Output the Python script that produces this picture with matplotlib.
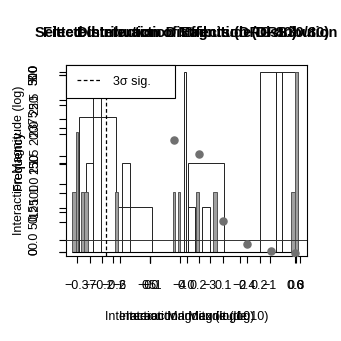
import numpy as np
import matplotlib
matplotlib.use("Agg")
import matplotlib.pyplot as plt

plt.rcParams['font.family'] = ['Liberation Sans', 'DejaVu Sans']

# histogram bins (log10 magnitude), outlined
out_left = [-7.37, -7.13, -6.90, -5.93, -6.13, -3.86, -3.73, -3.73, -3.26, -1.32, -0.79, -0.59]
out_right = [-6.13, -6.90, -6.63, -5.66, -4.93, -3.79, -2.52, -3.49, -2.99, -0.79, -0.59, -0.05]
out_count = [229, 151, 305, 151, 76, 305, 151, 76, 76, 305, 305, 305]

# grey filled bins
grey_left = [-7.60, -7.47, -7.30, -7.20, -6.16, -4.23, -4.06, -3.46, -2.89, -0.29, -0.15]
grey_right = [-7.47, -7.40, -7.20, -7.07, -6.06, -4.16, -3.99, -3.36, -2.76, -0.15, -0.05]
grey_count = [102, 203, 102, 102, 102, 102, 102, 102, 102, 102, 305]

# scatter points
sc_x = [0.1, 0.2, 0.3, 0.4, 0.5, 0.6]
sc_y = [1.79, 1.54, 0.34, -0.07, -0.20, -0.23]

sig3 = -0.22

hist_xticks = [-7, -6, -5, -4, -3, -2, -1, 0]
hist_yticks = [0, 50, 100, 150, 200, 250, 300]
sc_xticks = [-0.2, 0.0, 0.2, 0.4, 0.6]
sc_yticks = [0.0, 0.5, 1.0, 1.5, 2.0, 2.5, 3.0]
d_xticks = [-0.3, -0.2, -0.1, 0.0, 0.1, 0.2, 0.3]
d_yticks = [0, 125, 250, 375, 500]

fig = plt.figure(figsize=(3.41, 3.41), dpi=100)
pos = [66/341, 1 - 256/341, 241/341, 191/341]

ax1 = fig.add_axes(pos)
ax2 = fig.add_axes(pos, label="scatter")
ax3 = fig.add_axes(pos, label="dist")
for a in (ax2, ax3):
    a.patch.set_visible(False)
    for s in a.spines.values():
        s.set_visible(False)

fs = 9
tfs = 10.5

def style(a):
    a.tick_params(direction='out', length=5, width=0.8, labelsize=fs, pad=12)
    a.tick_params(axis='y', labelrotation=90, pad=13)
    for t in a.get_yticklabels():
        t.set_va('center')

# histogram layer
ol = np.array(out_left)
ax1.bar(ol, out_count, width=np.array(out_right) - ol, align='edge',
        fill=False, edgecolor='#222222', linewidth=0.7)
gl = np.array(grey_left)
ax1.bar(gl, grey_count, width=np.array(grey_right) - gl, align='edge',
        color='#a0a0a0', edgecolor='#555555', linewidth=0.7)
ax1.hlines(0, grey_left[0], grey_right[-1], color='black', linewidth=0.8)
ax1.set_xlim(-7.8, 0.25)
ax1.set_ylim(-6.8, 317)
ax1.set_xticks(hist_xticks)
ax1.set_yticks(hist_yticks)
ax1.set_xlabel("Interaction Magnitude (log10)", fontsize=fs, labelpad=14)
ax1.set_ylabel("Frequency", fontsize=fs, labelpad=3)
ax1.set_title("Selected Interaction Magnitude Distribution", fontsize=tfs,
              fontweight='bold', pad=20)
for s in ax1.spines.values():
    s.set_linewidth(0.8)
style(ax1)

# scatter layer
ax2.scatter(sc_x, sc_y, s=26, color='#707070', zorder=3)
ax2.axhline(0, color='#333333', linewidth=0.7)
ax2.set_xlim(-0.35, 0.65)
ax2.set_ylim(-0.286, 3.125)
ax2.set_xticks(sc_xticks)
ax2.set_yticks(sc_yticks)
ax2.set_xlabel("Interaction Index (log10)", fontsize=fs, labelpad=14)
ax2.set_ylabel("Interaction Magnitude (log)", fontsize=fs, labelpad=3)
ax2.set_title("Fitted Interaction Distribution (DRS30/80)", fontsize=tfs,
              fontweight='bold', pad=20)
style(ax2)

# distribution layer with 3 sigma line
ax3.axvline(sig3, color='black', linestyle=(0, (3, 2)), linewidth=0.9, label="3σ sig.    ")
ax3.set_xlim(-0.33, 0.33)
ax3.set_ylim(-11.3, 528)
ax3.set_xticks(d_xticks)
ax3.set_yticks(d_yticks)
ax3.set_xlabel("Interaction Magnitude", fontsize=fs, labelpad=14)
ax3.set_ylabel("Frequency", fontsize=fs, labelpad=3)
ax3.set_title("Distribution of Effects (DRG 80)", fontsize=tfs,
              fontweight='bold', pad=20)
style(ax3)
leg = ax3.legend(loc='upper left', borderaxespad=0, fontsize=fs, fancybox=False,
                 framealpha=1, edgecolor='black', handlelength=1.9, handletextpad=1.0,
                 borderpad=0.85)
leg.get_frame().set_linewidth(0.8)

fig.savefig("out.png", dpi=100)
